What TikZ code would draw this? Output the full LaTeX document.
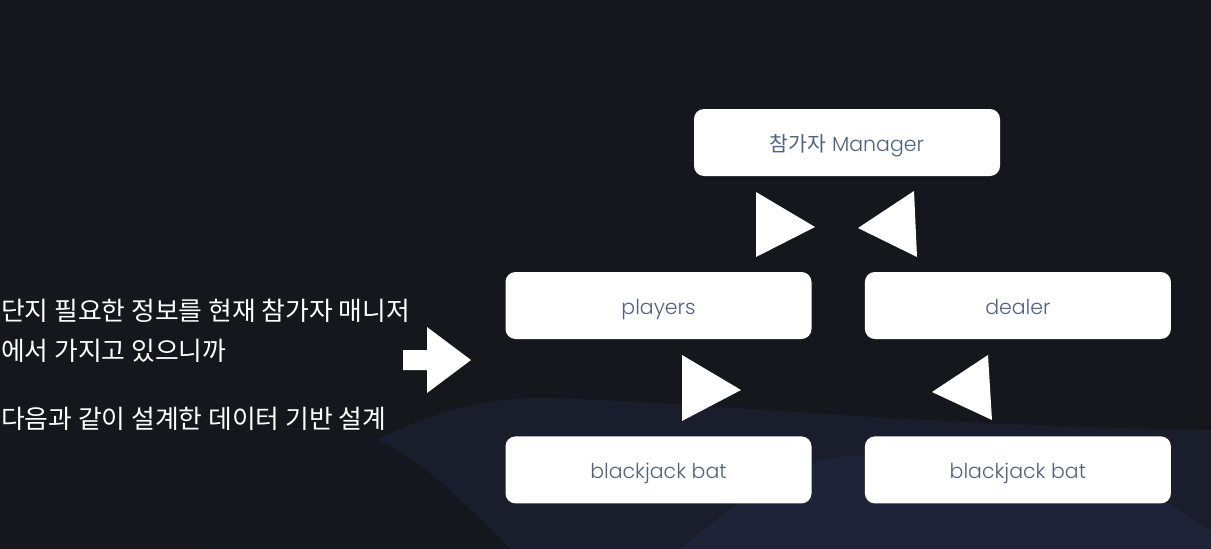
\documentclass[tikz,border=0pt]{standalone}
\usepackage{fontspec}
\usepackage{tikz}
\usetikzlibrary{
  positioning,  % Function "of" (e.g. [right=of x])
}
\newfontfamily\krfont{Noto Sans CJK KR}
\newfontfamily\boxfont{Poppins Light}
\definecolor{bgdark}{HTML}{16171C}
\definecolor{wavea}{HTML}{1A1D2B}
\definecolor{waveb}{HTML}{1F2337}
\definecolor{wavec}{HTML}{15171F}
\definecolor{slate}{HTML}{4F6380}
\def\myhgap{53pt}
\def\myvgap{97pt}
\tikzset{
  my box/.style={
    fill=white,
    rounded corners=10pt,
    minimum width=306pt,
    minimum height=67pt,
    inner sep=0pt,
    text height=18pt,
    text depth=0pt,
    text=slate,
    font=\boxfont\fontsize{20.5}{24}\selectfont
  },
  my head/.style={
    fill=white
  },
  my text/.style={
    text=white,
    anchor=west,
    align=left,
    inner sep=0pt,
    font=\krfont\fontsize{25.8}{40}\selectfont
  }
}
\begin{document}
\begin{tikzpicture}[x=1pt,y=-1pt]
% background
\fill[bgdark] (0,0) rectangle (1211,549);
\fill[wavea] (230,549) .. controls (330,450) and (440,395) .. (550,398)
  .. controls (700,402) and (900,425) .. (1211,430) -- (1211,549) -- cycle;
\fill[wavec] (200,549) .. controls (230,470) and (270,425) .. (320,425)
  .. controls (400,430) and (460,500) .. (510,549) -- cycle;
\fill[waveb] (680,549) .. controls (740,500) and (790,460) .. (850,456)
  .. controls (950,450) and (1060,445) .. (1110,470)
  .. controls (1160,495) and (1190,520) .. (1211,530) -- (1211,549) -- cycle;
\useasboundingbox (0,0) rectangle (1211,549);
% boxes
\node[my box] (mgr) at (847,142.5) {{\krfont 참가자} Manager};
\node[my box] (players) at (658.5,305.5) {players};
\node[my box, right=\myhgap of players] (dealer) {dealer};
\node[my box, below=\myvgap of players] (batL) {blackjack bat};
\node[my box, below=\myvgap of dealer] (batR) {blackjack bat};
% arrow heads
\fill[my head] (756,192) -- (815,227) -- (756,257) -- cycle;
\fill[my head] (914,191) -- (858,228) -- (917,257) -- cycle;
\fill[my head] (682,355) -- (741,390) -- (682,421) -- cycle;
\fill[my head] (988,355) -- (932,392) -- (992,420) -- cycle;
% big arrow
\fill[my head] (403,350) -- (427,350) -- (427,327) -- (471,360)
  -- (427,393) -- (427,370) -- (403,370) -- cycle;
% left text
\node[my text] (note1) at (1,331) {단지 필요한 정보를 현재 참가자 매니저\\에서 가지고 있으니까};
\node[my text] (note2) at (1,418.5) {다음과 같이 설계한 데이터 기반 설계};
\end{tikzpicture}
\end{document}
